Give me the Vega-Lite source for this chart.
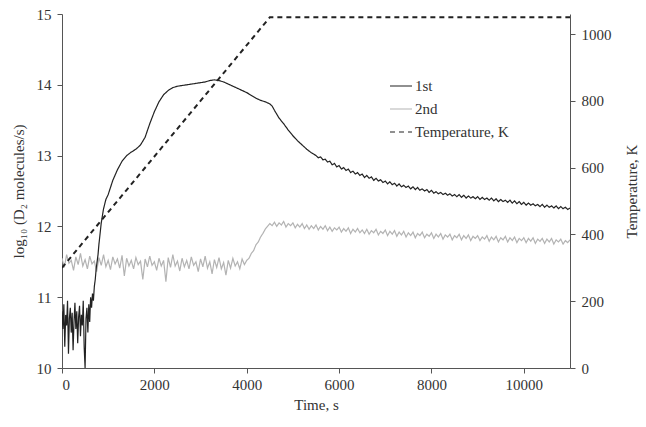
{
  "$schema": "https://vega.github.io/schema/vega-lite/v6.json",
  "autosize": {"type": "none"},
  "padding": {"left": 62, "top": 14, "right": 76, "bottom": 59},
  "width": 508,
  "height": 354,
  "background": "white",
  "config": {
    "view": {"stroke": null},
    "font": "Liberation Serif",
    "axis": {
      "grid": false,
      "domainColor": "#555",
      "tickColor": "#555",
      "labelColor": "#333",
      "titleColor": "#333",
      "labelFont": "Liberation Serif",
      "titleFont": "Liberation Serif",
      "labelFontSize": 15,
      "titleFontSize": 15,
      "titleFontWeight": "normal",
      "tickSize": 5
    },
    "legend": {
      "labelFont": "Liberation Serif",
      "labelFontSize": 15,
      "labelColor": "#333"
    }
  },
  "datasets": {
    "first": [
      {"t": 0, "v": 10.80}, {"t": 20, "v": 10.55}, {"t": 40, "v": 10.90}, {"t": 60, "v": 10.30}, {"t": 80, "v": 10.75},
      {"t": 100, "v": 10.60}, {"t": 120, "v": 10.95}, {"t": 140, "v": 10.20}, {"t": 160, "v": 10.70}, {"t": 180, "v": 10.85},
      {"t": 200, "v": 10.50}, {"t": 220, "v": 10.78}, {"t": 240, "v": 10.25}, {"t": 260, "v": 10.65}, {"t": 280, "v": 10.92},
      {"t": 300, "v": 10.55}, {"t": 320, "v": 10.80}, {"t": 340, "v": 10.35}, {"t": 360, "v": 10.72}, {"t": 380, "v": 10.88},
      {"t": 400, "v": 10.45}, {"t": 420, "v": 10.75}, {"t": 440, "v": 10.60}, {"t": 460, "v": 10.95}, {"t": 480, "v": 10.30},
      {"t": 500, "v": 10.00}, {"t": 520, "v": 10.70}, {"t": 540, "v": 10.85}, {"t": 560, "v": 10.50}, {"t": 580, "v": 10.90},
      {"t": 600, "v": 10.65}, {"t": 620, "v": 11.00}, {"t": 640, "v": 10.85}, {"t": 660, "v": 11.05}, {"t": 680, "v": 10.95},
      {"t": 700, "v": 11.15}, {"t": 720, "v": 11.25}, {"t": 740, "v": 11.40}, {"t": 760, "v": 11.50}, {"t": 780, "v": 11.60},
      {"t": 800, "v": 11.75}, {"t": 850, "v": 12.05}, {"t": 900, "v": 12.25}, {"t": 950, "v": 12.38}, {"t": 1000, "v": 12.45},
      {"t": 1050, "v": 12.55}, {"t": 1100, "v": 12.65}, {"t": 1200, "v": 12.80}, {"t": 1300, "v": 12.92}, {"t": 1400, "v": 13.00},
      {"t": 1500, "v": 13.05}, {"t": 1600, "v": 13.09}, {"t": 1700, "v": 13.15}, {"t": 1800, "v": 13.26}, {"t": 1900, "v": 13.45},
      {"t": 2000, "v": 13.62}, {"t": 2100, "v": 13.76}, {"t": 2200, "v": 13.86}, {"t": 2300, "v": 13.92}, {"t": 2400, "v": 13.96},
      {"t": 2500, "v": 13.98}, {"t": 2600, "v": 13.99}, {"t": 2700, "v": 14.00}, {"t": 2800, "v": 14.01}, {"t": 2900, "v": 14.02},
      {"t": 3000, "v": 14.03}, {"t": 3100, "v": 14.04}, {"t": 3200, "v": 14.06}, {"t": 3300, "v": 14.07}, {"t": 3400, "v": 14.06},
      {"t": 3500, "v": 14.04}, {"t": 3600, "v": 14.01}, {"t": 3700, "v": 13.98}, {"t": 3800, "v": 13.95}, {"t": 3900, "v": 13.92},
      {"t": 4000, "v": 13.89}, {"t": 4100, "v": 13.85}, {"t": 4200, "v": 13.81}, {"t": 4300, "v": 13.78}, {"t": 4400, "v": 13.76},
      {"t": 4500, "v": 13.73}, {"t": 4550, "v": 13.70}, {"t": 4600, "v": 13.64}, {"t": 4700, "v": 13.53}, {"t": 4800, "v": 13.45},
      {"t": 4900, "v": 13.36}, {"t": 5000, "v": 13.28}, {"t": 5100, "v": 13.21}, {"t": 5200, "v": 13.15}, {"t": 5300, "v": 13.09},
      {"t": 5400, "v": 13.04}, {"t": 5500, "v": 13.00}, {"t": 5550, "v": 12.97}, {"t": 5600, "v": 12.98}, {"t": 5650, "v": 12.94},
      {"t": 5700, "v": 12.95}, {"t": 5750, "v": 12.91}, {"t": 5800, "v": 12.92}, {"t": 5850, "v": 12.87}, {"t": 5900, "v": 12.89},
      {"t": 5950, "v": 12.84}, {"t": 6000, "v": 12.86}, {"t": 6050, "v": 12.81}, {"t": 6100, "v": 12.83}, {"t": 6150, "v": 12.79},
      {"t": 6200, "v": 12.81}, {"t": 6250, "v": 12.76}, {"t": 6300, "v": 12.78}, {"t": 6350, "v": 12.74}, {"t": 6400, "v": 12.76},
      {"t": 6450, "v": 12.72}, {"t": 6500, "v": 12.74}, {"t": 6550, "v": 12.69}, {"t": 6600, "v": 12.72}, {"t": 6650, "v": 12.68},
      {"t": 6700, "v": 12.70}, {"t": 6750, "v": 12.65}, {"t": 6800, "v": 12.68}, {"t": 6850, "v": 12.64}, {"t": 6900, "v": 12.66},
      {"t": 6950, "v": 12.62}, {"t": 7000, "v": 12.64}, {"t": 7050, "v": 12.60}, {"t": 7100, "v": 12.63}, {"t": 7150, "v": 12.59},
      {"t": 7200, "v": 12.61}, {"t": 7250, "v": 12.57}, {"t": 7300, "v": 12.60}, {"t": 7350, "v": 12.56}, {"t": 7400, "v": 12.58},
      {"t": 7450, "v": 12.55}, {"t": 7500, "v": 12.57}, {"t": 7550, "v": 12.53}, {"t": 7600, "v": 12.56}, {"t": 7650, "v": 12.52},
      {"t": 7700, "v": 12.55}, {"t": 7750, "v": 12.51}, {"t": 7800, "v": 12.53}, {"t": 7850, "v": 12.50}, {"t": 7900, "v": 12.52},
      {"t": 7950, "v": 12.48}, {"t": 8000, "v": 12.51}, {"t": 8050, "v": 12.47}, {"t": 8100, "v": 12.49}, {"t": 8150, "v": 12.46},
      {"t": 8200, "v": 12.48}, {"t": 8250, "v": 12.45}, {"t": 8300, "v": 12.47}, {"t": 8350, "v": 12.44}, {"t": 8400, "v": 12.46},
      {"t": 8450, "v": 12.43}, {"t": 8500, "v": 12.45}, {"t": 8550, "v": 12.42}, {"t": 8600, "v": 12.45}, {"t": 8650, "v": 12.41},
      {"t": 8700, "v": 12.44}, {"t": 8750, "v": 12.40}, {"t": 8800, "v": 12.43}, {"t": 8850, "v": 12.40}, {"t": 8900, "v": 12.42},
      {"t": 8950, "v": 12.39}, {"t": 9000, "v": 12.42}, {"t": 9050, "v": 12.38}, {"t": 9100, "v": 12.41}, {"t": 9150, "v": 12.38},
      {"t": 9200, "v": 12.40}, {"t": 9250, "v": 12.37}, {"t": 9300, "v": 12.40}, {"t": 9350, "v": 12.36}, {"t": 9400, "v": 12.39},
      {"t": 9450, "v": 12.35}, {"t": 9500, "v": 12.38}, {"t": 9550, "v": 12.35}, {"t": 9600, "v": 12.37}, {"t": 9650, "v": 12.34},
      {"t": 9700, "v": 12.37}, {"t": 9750, "v": 12.33}, {"t": 9800, "v": 12.36}, {"t": 9850, "v": 12.32}, {"t": 9900, "v": 12.35},
      {"t": 9950, "v": 12.31}, {"t": 10000, "v": 12.34}, {"t": 10050, "v": 12.30}, {"t": 10100, "v": 12.33}, {"t": 10150, "v": 12.30},
      {"t": 10200, "v": 12.32}, {"t": 10250, "v": 12.29}, {"t": 10300, "v": 12.31}, {"t": 10350, "v": 12.28}, {"t": 10400, "v": 12.31},
      {"t": 10450, "v": 12.27}, {"t": 10500, "v": 12.30}, {"t": 10550, "v": 12.27}, {"t": 10600, "v": 12.29}, {"t": 10650, "v": 12.26},
      {"t": 10700, "v": 12.29}, {"t": 10750, "v": 12.25}, {"t": 10800, "v": 12.28}, {"t": 10850, "v": 12.25}, {"t": 10900, "v": 12.27},
      {"t": 10950, "v": 12.24}, {"t": 11000, "v": 12.26}
    ],
    "second": [
      {"t": 0, "v": 11.55}, {"t": 50, "v": 11.42}, {"t": 100, "v": 11.60}, {"t": 150, "v": 11.48}, {"t": 200, "v": 11.52},
      {"t": 250, "v": 11.38}, {"t": 300, "v": 11.57}, {"t": 350, "v": 11.46}, {"t": 400, "v": 11.62}, {"t": 450, "v": 11.44},
      {"t": 500, "v": 11.53}, {"t": 550, "v": 11.40}, {"t": 600, "v": 11.58}, {"t": 650, "v": 11.47}, {"t": 700, "v": 11.51},
      {"t": 750, "v": 11.36}, {"t": 800, "v": 11.56}, {"t": 850, "v": 11.45}, {"t": 900, "v": 11.60}, {"t": 950, "v": 11.43},
      {"t": 1000, "v": 11.52}, {"t": 1050, "v": 11.39}, {"t": 1100, "v": 11.57}, {"t": 1150, "v": 11.47}, {"t": 1200, "v": 11.54},
      {"t": 1250, "v": 11.41}, {"t": 1300, "v": 11.59}, {"t": 1350, "v": 11.30}, {"t": 1400, "v": 11.55}, {"t": 1450, "v": 11.44},
      {"t": 1500, "v": 11.52}, {"t": 1550, "v": 11.40}, {"t": 1600, "v": 11.56}, {"t": 1650, "v": 11.46}, {"t": 1700, "v": 11.51},
      {"t": 1750, "v": 11.25}, {"t": 1800, "v": 11.54}, {"t": 1850, "v": 11.43}, {"t": 1900, "v": 11.58}, {"t": 1950, "v": 11.45},
      {"t": 2000, "v": 11.50}, {"t": 2050, "v": 11.38}, {"t": 2100, "v": 11.55}, {"t": 2150, "v": 11.44}, {"t": 2200, "v": 11.52},
      {"t": 2250, "v": 11.22}, {"t": 2300, "v": 11.56}, {"t": 2350, "v": 11.42}, {"t": 2400, "v": 11.60}, {"t": 2450, "v": 11.44},
      {"t": 2500, "v": 11.51}, {"t": 2550, "v": 11.37}, {"t": 2600, "v": 11.55}, {"t": 2650, "v": 11.43}, {"t": 2700, "v": 11.52},
      {"t": 2750, "v": 11.40}, {"t": 2800, "v": 11.57}, {"t": 2850, "v": 11.45}, {"t": 2900, "v": 11.50}, {"t": 2950, "v": 11.36},
      {"t": 3000, "v": 11.54}, {"t": 3050, "v": 11.43}, {"t": 3100, "v": 11.58}, {"t": 3150, "v": 11.41}, {"t": 3200, "v": 11.50},
      {"t": 3250, "v": 11.33}, {"t": 3300, "v": 11.53}, {"t": 3350, "v": 11.42}, {"t": 3400, "v": 11.56}, {"t": 3450, "v": 11.40},
      {"t": 3500, "v": 11.49}, {"t": 3550, "v": 11.31}, {"t": 3600, "v": 11.52}, {"t": 3650, "v": 11.41}, {"t": 3700, "v": 11.55},
      {"t": 3750, "v": 11.44}, {"t": 3800, "v": 11.50}, {"t": 3850, "v": 11.40}, {"t": 3900, "v": 11.54}, {"t": 3950, "v": 11.46},
      {"t": 4000, "v": 11.52}, {"t": 4050, "v": 11.55}, {"t": 4100, "v": 11.62}, {"t": 4150, "v": 11.66}, {"t": 4200, "v": 11.74},
      {"t": 4250, "v": 11.78}, {"t": 4300, "v": 11.85}, {"t": 4350, "v": 11.90}, {"t": 4400, "v": 11.96}, {"t": 4450, "v": 12.00},
      {"t": 4500, "v": 12.04}, {"t": 4550, "v": 12.01}, {"t": 4600, "v": 12.06}, {"t": 4650, "v": 12.00}, {"t": 4700, "v": 12.05},
      {"t": 4750, "v": 12.02}, {"t": 4800, "v": 12.07}, {"t": 4850, "v": 11.99}, {"t": 4900, "v": 12.04}, {"t": 4950, "v": 12.01},
      {"t": 5000, "v": 12.05}, {"t": 5050, "v": 11.98}, {"t": 5100, "v": 12.03}, {"t": 5150, "v": 11.99}, {"t": 5200, "v": 12.04},
      {"t": 5250, "v": 11.97}, {"t": 5300, "v": 12.02}, {"t": 5350, "v": 11.96}, {"t": 5400, "v": 12.01}, {"t": 5450, "v": 11.97},
      {"t": 5500, "v": 12.02}, {"t": 5550, "v": 11.95}, {"t": 5600, "v": 12.00}, {"t": 5650, "v": 11.96}, {"t": 5700, "v": 12.01},
      {"t": 5750, "v": 11.94}, {"t": 5800, "v": 11.99}, {"t": 5850, "v": 11.93}, {"t": 5900, "v": 11.98}, {"t": 5950, "v": 11.95},
      {"t": 6000, "v": 11.99}, {"t": 6050, "v": 11.92}, {"t": 6100, "v": 11.97}, {"t": 6150, "v": 11.93}, {"t": 6200, "v": 11.98},
      {"t": 6250, "v": 11.90}, {"t": 6300, "v": 11.96}, {"t": 6350, "v": 11.92}, {"t": 6400, "v": 11.97}, {"t": 6450, "v": 11.91},
      {"t": 6500, "v": 11.95}, {"t": 6550, "v": 11.90}, {"t": 6600, "v": 11.96}, {"t": 6650, "v": 11.89}, {"t": 6700, "v": 11.94},
      {"t": 6750, "v": 11.91}, {"t": 6800, "v": 11.96}, {"t": 6850, "v": 11.88}, {"t": 6900, "v": 11.93}, {"t": 6950, "v": 11.90},
      {"t": 7000, "v": 11.95}, {"t": 7050, "v": 11.87}, {"t": 7100, "v": 11.93}, {"t": 7150, "v": 11.89}, {"t": 7200, "v": 11.94},
      {"t": 7250, "v": 11.86}, {"t": 7300, "v": 11.92}, {"t": 7350, "v": 11.88}, {"t": 7400, "v": 11.93}, {"t": 7450, "v": 11.85},
      {"t": 7500, "v": 11.91}, {"t": 7550, "v": 11.87}, {"t": 7600, "v": 11.92}, {"t": 7650, "v": 11.84}, {"t": 7700, "v": 11.90},
      {"t": 7750, "v": 11.87}, {"t": 7800, "v": 11.92}, {"t": 7850, "v": 11.84}, {"t": 7900, "v": 11.89}, {"t": 7950, "v": 11.86},
      {"t": 8000, "v": 11.91}, {"t": 8050, "v": 11.83}, {"t": 8100, "v": 11.89}, {"t": 8150, "v": 11.85}, {"t": 8200, "v": 11.90},
      {"t": 8250, "v": 11.82}, {"t": 8300, "v": 11.88}, {"t": 8350, "v": 11.85}, {"t": 8400, "v": 11.89}, {"t": 8450, "v": 11.81},
      {"t": 8500, "v": 11.87}, {"t": 8550, "v": 11.84}, {"t": 8600, "v": 11.89}, {"t": 8650, "v": 11.81}, {"t": 8700, "v": 11.87},
      {"t": 8750, "v": 11.83}, {"t": 8800, "v": 11.88}, {"t": 8850, "v": 11.80}, {"t": 8900, "v": 11.86}, {"t": 8950, "v": 11.83},
      {"t": 9000, "v": 11.87}, {"t": 9050, "v": 11.80}, {"t": 9100, "v": 11.85}, {"t": 9150, "v": 11.82}, {"t": 9200, "v": 11.87},
      {"t": 9250, "v": 11.79}, {"t": 9300, "v": 11.85}, {"t": 9350, "v": 11.81}, {"t": 9400, "v": 11.86}, {"t": 9450, "v": 11.78},
      {"t": 9500, "v": 11.84}, {"t": 9550, "v": 11.81}, {"t": 9600, "v": 11.86}, {"t": 9650, "v": 11.78}, {"t": 9700, "v": 11.84},
      {"t": 9750, "v": 11.80}, {"t": 9800, "v": 11.85}, {"t": 9850, "v": 11.77}, {"t": 9900, "v": 11.83}, {"t": 9950, "v": 11.80},
      {"t": 10000, "v": 11.84}, {"t": 10050, "v": 11.77}, {"t": 10100, "v": 11.83}, {"t": 10150, "v": 11.79}, {"t": 10200, "v": 11.84},
      {"t": 10250, "v": 11.76}, {"t": 10300, "v": 11.82}, {"t": 10350, "v": 11.79}, {"t": 10400, "v": 11.83}, {"t": 10450, "v": 11.76},
      {"t": 10500, "v": 11.82}, {"t": 10550, "v": 11.78}, {"t": 10600, "v": 11.83}, {"t": 10650, "v": 11.75}, {"t": 10700, "v": 11.81},
      {"t": 10750, "v": 11.78}, {"t": 10800, "v": 11.82}, {"t": 10850, "v": 11.75}, {"t": 10900, "v": 11.80}, {"t": 10950, "v": 11.77},
      {"t": 11000, "v": 11.81}
    ],
    "temp": [
      {"t": 0, "v": 300},
      {"t": 4500, "v": 1050},
      {"t": 11000, "v": 1050}
    ]
  },
  "layer": [
    {
      "layer": [
        {
          "data": {"name": "second"},
          "mark": {"type": "line", "strokeWidth": 1.2, "clip": true},
          "encoding": {
            "x": {"field": "t", "type": "quantitative"},
            "y": {"field": "v", "type": "quantitative"},
            "color": {"datum": "2nd"},
            "strokeDash": {"datum": "2nd"}
          }
        },
        {
          "data": {"name": "first"},
          "mark": {"type": "line", "strokeWidth": 1.2, "clip": true},
          "encoding": {
            "x": {
              "field": "t",
              "type": "quantitative",
              "scale": {"domain": [0, 11000], "nice": false},
              "axis": {"values": [0, 2000, 4000, 6000, 8000, 10000], "title": "Time, s", "format": "d", "labelPadding": 4, "titlePadding": 5}
            },
            "y": {
              "field": "v",
              "type": "quantitative",
              "scale": {"domain": [10, 15], "nice": false, "zero": false},
              "axis": {"values": [10, 11, 12, 13, 14, 15], "format": "d", "title": "log₁₀ (D₂ molecules/s)", "labelPadding": 6, "titlePadding": 10}
            },
            "color": {
              "datum": "1st",
              "scale": {"domain": ["1st", "2nd", "Temperature, K"], "range": ["#222222", "#b3b3b3", "#222222"]},
              "legend": {
                "title": null,
                "orient": "none",
                "legendX": 327,
                "legendY": 60,
                "symbolType": "stroke",
                "symbolSize": 484,
                "symbolStrokeWidth": 1.2,
                "rowPadding": 3,
                "labelOffset": 2
              }
            },
            "strokeDash": {
              "datum": "1st",
              "scale": {"domain": ["1st", "2nd", "Temperature, K"], "range": [[1, 0], [1, 0], [5, 4]]}
            }
          }
        }
      ]
    },
    {
      "data": {"name": "temp"},
      "mark": {"type": "line", "strokeWidth": 2, "clip": true},
      "encoding": {
        "x": {"field": "t", "type": "quantitative"},
        "y": {
          "field": "v",
          "type": "quantitative",
          "scale": {"domain": [0, 1060], "nice": false, "zero": true},
          "axis": {"orient": "right", "values": [0, 200, 400, 600, 800, 1000], "format": "d", "title": "Temperature, K", "titleAngle": 270, "labelPadding": 6, "titlePadding": 28}
        },
        "color": {"datum": "Temperature, K"},
        "strokeDash": {"datum": "Temperature, K", "scale": {"domain": ["1st", "2nd", "Temperature, K"], "range": [[1, 0], [1, 0], [7, 5]]}}
      }
    }
  ],
  "resolve": {"scale": {"y": "independent"}}
}
